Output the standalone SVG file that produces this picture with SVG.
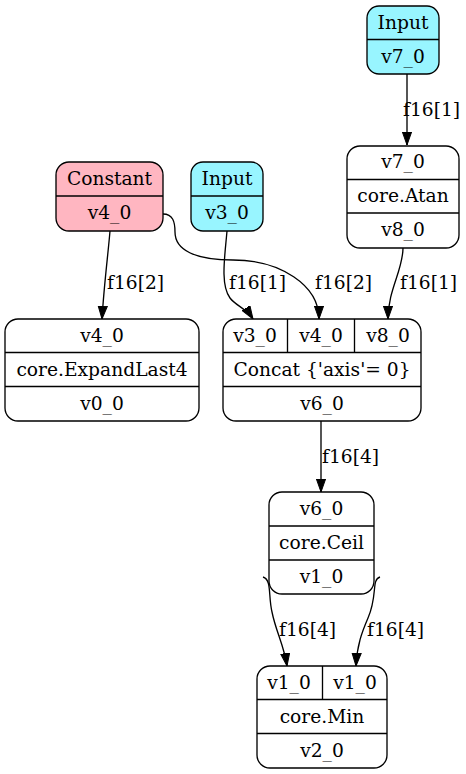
<svg xmlns="http://www.w3.org/2000/svg" width="466" height="774" viewBox="0 0 466 774">
  <style>
    .box { stroke: #000; stroke-width: 1.33; }
    .plain { fill: #fff; }
    .input { fill: #98f5ff; }
    .const { fill: #ffb6c1; }
    .sep { stroke: #000; stroke-width: 1.33; fill: none; }
    text { font-family: "DejaVu Serif", "Liberation Serif", serif; font-size: 18.67px; fill: #000; }
    .c { text-anchor: middle; }
    .edge { stroke: #000; stroke-width: 1.33; fill: none; marker-end: url(#arrow); }
  </style>
  <defs>
    <marker id="arrow" markerUnits="userSpaceOnUse" markerWidth="14" markerHeight="11" refX="13" refY="5" orient="auto">
      <path d="M0,0.4 L13,5 L0,9.6 z" fill="#000" stroke="#000" stroke-width="1"/>
    </marker>
  </defs>

  <rect width="466" height="774" fill="#fff"/>

  <!-- connectors -->
  <g id="edges">
    <path class="edge" d="M407,74 L407,145"/>
    <text x="403" y="116">f16[1]</text>

    <path class="edge" d="M110,231 C108,255 104,285 102,319"/>
    <text x="107" y="289">f16[2]</text>

    <path class="edge" d="M163,214 C173,214 175,222 175,232 C175,250 195,260 233,260 C280,260 319,285 319,319"/>
    <text x="315" y="289">f16[2]</text>

    <path class="edge" d="M227,231 C225,255 220,285 230,298 C236,306 246,308 253,319"/>
    <text x="229" y="289">f16[1]</text>

    <path class="edge" d="M403,248 C403,270 388,290 388,319"/>
    <text x="400" y="289">f16[1]</text>

    <path class="edge" d="M321,421 L321,492"/>
    <text x="322" y="463">f16[4]</text>

    <path class="edge" d="M263,577 C272,580 268,595 272,612 C276,632 284,645 287,666"/>
    <text x="279" y="636">f16[4]</text>

    <path class="edge" d="M380,577 C371,580 378,595 368,618 C362,632 357,645 356,666"/>
    <text x="367" y="636">f16[4]</text>
  </g>

  <!-- Input v7_0 -->
  <g id="input_v7">
    <rect class="box input" x="367" y="6" width="72" height="68" rx="12"/>
    <path class="sep" d="M367,39.5 H439"/>
    <text class="c" x="403" y="29">Input</text>
    <text class="c" x="403" y="63">v7_0</text>
  </g>

  <!-- core.Atan -->
  <g id="atan">
    <rect class="box plain" x="347" y="146" width="112" height="102" rx="13"/>
    <path class="sep" d="M347,179.5 H459 M347,213 H459"/>
    <text class="c" x="403" y="168">v7_0</text>
    <text class="c" x="403" y="202">core.Atan</text>
    <text class="c" x="403" y="236">v8_0</text>
  </g>

  <!-- Constant v4_0 -->
  <g id="constant_v4">
    <rect class="box const" x="56" y="162" width="107" height="69" rx="13"/>
    <path class="sep" d="M56,196 H163"/>
    <text class="c" x="109.5" y="185">Constant</text>
    <text class="c" x="109.5" y="219">v4_0</text>
  </g>

  <!-- Input v3_0 -->
  <g id="input_v3">
    <rect class="box input" x="191" y="162" width="72" height="69" rx="12"/>
    <path class="sep" d="M191,196 H263"/>
    <text class="c" x="227" y="185">Input</text>
    <text class="c" x="227" y="219">v3_0</text>
  </g>

  <!-- core.ExpandLast4 -->
  <g id="expandlast4">
    <rect class="box plain" x="5" y="319" width="194" height="102" rx="13"/>
    <path class="sep" d="M5,352.5 H199 M5,386.5 H199"/>
    <text class="c" x="102" y="342">v4_0</text>
    <text class="c" x="102" y="376">core.ExpandLast4</text>
    <text class="c" x="102" y="410">v0_0</text>
  </g>

  <!-- Concat -->
  <g id="concat">
    <rect class="box plain" x="223" y="319" width="198" height="102" rx="13"/>
    <path class="sep" d="M223,352.5 H421 M223,386.5 H421 M287.5,319 V352.5 M354.5,319 V352.5"/>
    <text class="c" x="255" y="342">v3_0</text>
    <text class="c" x="321" y="342">v4_0</text>
    <text class="c" x="388" y="342">v8_0</text>
    <text class="c" x="322" y="376">Concat {'axis'= 0}</text>
    <text class="c" x="322" y="410">v6_0</text>
  </g>

  <!-- core.Ceil -->
  <g id="ceil">
    <rect class="box plain" x="269" y="492" width="105" height="102" rx="13"/>
    <path class="sep" d="M269,526 H374 M269,560 H374"/>
    <text class="c" x="321.5" y="515">v6_0</text>
    <text class="c" x="321.5" y="549">core.Ceil</text>
    <text class="c" x="321.5" y="583">v1_0</text>
  </g>

  <!-- core.Min -->
  <g id="min">
    <rect class="box plain" x="257" y="666" width="130" height="102" rx="13"/>
    <path class="sep" d="M257,699.5 H387 M257,733.5 H387 M322.5,666 V699.5"/>
    <text class="c" x="289" y="689">v1_0</text>
    <text class="c" x="355" y="689">v1_0</text>
    <text class="c" x="322" y="723">core.Min</text>
    <text class="c" x="322" y="757">v2_0</text>
  </g>
</svg>
